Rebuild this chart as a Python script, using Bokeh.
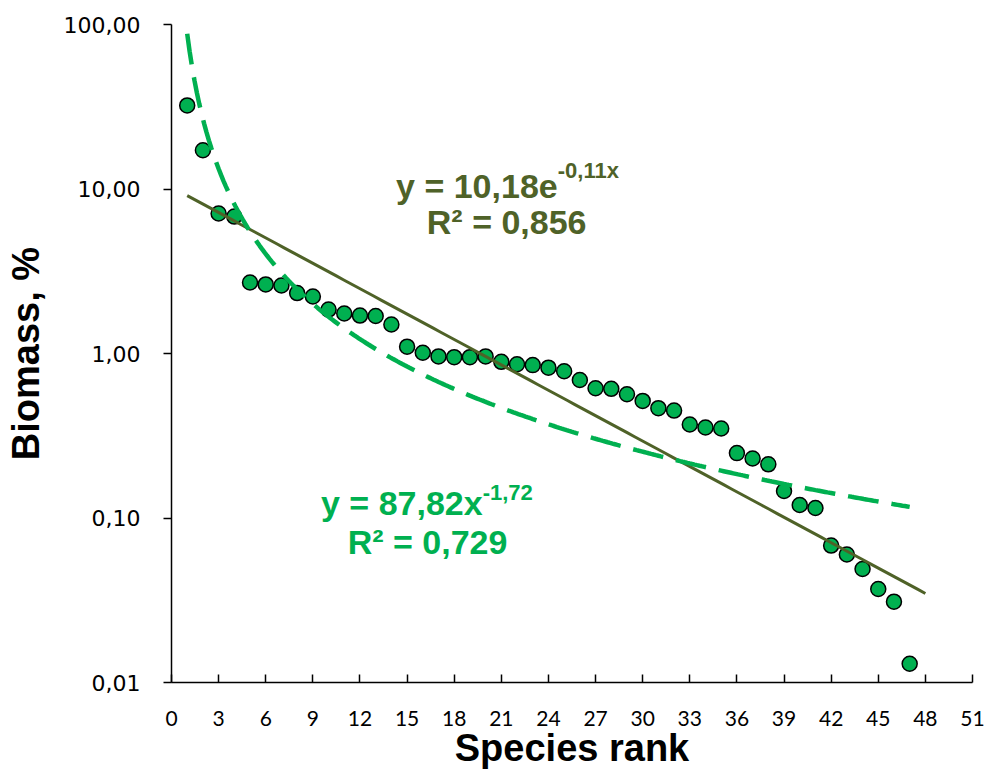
import numpy as np
from bokeh.plotting import figure
from bokeh.models import Range1d, FixedTicker, CustomJSTickFormatter, Label, ColumnDataSource
from bokeh.embed import file_html
from bokeh.resources import INLINE

# ---- data ----
ranks = list(range(1, 48))
biomass = [32.2, 17.2, 7.1, 6.8, 2.70, 2.63, 2.59, 2.33, 2.22, 1.85,
           1.75, 1.70, 1.69, 1.50, 1.10, 1.01, 0.96, 0.95, 0.95, 0.96,
           0.89, 0.86, 0.85, 0.82, 0.78, 0.69, 0.615, 0.61, 0.565, 0.515,
           0.465, 0.45, 0.37, 0.355, 0.35, 0.248, 0.23, 0.212, 0.146, 0.12,
           0.115, 0.068, 0.060, 0.049, 0.037, 0.031, 0.013]
x_ticks = list(range(0, 52, 3))
y_ticks = [0.01, 0.1, 1, 10, 100]

# trendline coefficients (as drawn in the reference)
exp_a, exp_b = 10.27, -0.1185      # y = a * exp(b x)
pow_a, pow_b = 87.82, -1.72        # y = a * x^b

exp_eq_main = "y = 10,18e"
exp_eq_sup = "-0,11x"
exp_r2 = "R² = 0,856"
pow_eq_main = "y = 87,82x"
pow_eq_sup = "-1,72"
pow_r2 = "R² = 0,729"
x_title = "Species rank"
y_title = "Biomass, %"

xr = np.array(ranks, dtype=float)
x_exp = np.linspace(xr[0], xr[-1] + 1, 100)
y_exp = exp_a * np.exp(exp_b * x_exp)
x_pow = np.linspace(xr[0], xr[-1], 300)
y_pow = pow_a * x_pow ** pow_b

GREEN = "#00B050"
OLIVE = "#4F6228"
FONT = "Liberation Sans"

p = figure(width=989, height=776, y_axis_type="log",
           x_range=Range1d(0, 51), y_range=Range1d(0.01, 100),
           output_backend="svg", toolbar_location=None,
           min_border_left=171, min_border_right=17,
           min_border_top=24, min_border_bottom=94)
p.xgrid.visible = False
p.ygrid.visible = False
p.outline_line_color = None
p.background_fill_color = "white"
p.border_fill_color = "white"

p.xaxis.ticker = FixedTicker(ticks=x_ticks, minor_ticks=[])
p.yaxis.ticker = FixedTicker(ticks=y_ticks, minor_ticks=[])
p.yaxis.formatter = CustomJSTickFormatter(code="return tick.toFixed(2).replace('.', ',');")

for ax in (p.xaxis, p.yaxis):
    ax.axis_line_color = "black"
    ax.axis_line_width = 1.5
    ax.major_tick_line_color = "black"
    ax.major_tick_line_width = 1.5
    ax.major_label_text_color = "black"
    ax.axis_label_text_font = FONT
    ax.axis_label_text_font_style = "bold"
    ax.axis_label_text_font_size = "38px"
    ax.axis_label_text_color = "black"

p.xaxis.major_tick_in = 8
p.xaxis.major_tick_out = 0
p.xaxis.major_label_standoff = 28
p.xaxis.major_label_text_font = "Lato"
p.xaxis.major_label_text_font_size = "21px"
p.xaxis.axis_label = x_title
p.xaxis.axis_label_standoff = -2

p.yaxis.major_tick_in = 0
p.yaxis.major_tick_out = 8
p.yaxis.major_label_standoff = 23
p.yaxis.major_label_text_font = "DejaVu Sans"
p.yaxis.major_label_text_font_size = "22px"
p.yaxis.axis_label = y_title
p.yaxis.axis_label_standoff = 14

src = ColumnDataSource(data=dict(rank=ranks, biomass=biomass))
p.scatter("rank", "biomass", source=src, size=15, fill_color=GREEN,
          line_color="black", line_width=1.5)

p.line(x_exp, y_exp, line_color=OLIVE, line_width=3)
p.line(x_pow, y_pow, line_color=GREEN, line_width=4.5, line_dash="31 13")


def lab(x, y, text, color, size, align):
    p.add_layout(Label(x=x, y=y, text=text, text_color=color, text_font=FONT,
                       text_font_size=size, text_font_style="bold",
                       text_align=align, text_baseline="alphabetic"))

# exponential equation
lab(24.59, 10.5, exp_eq_main, OLIVE, "34px", "right")
lab(24.59, 12.9, exp_eq_sup, OLIVE, "22px", "left")
lab(21.34, 6.34, exp_r2, OLIVE, "34px", "center")
# power equation
lab(19.81, 0.124, pow_eq_main, GREEN, "34px", "right")
lab(19.81, 0.143, pow_eq_sup, GREEN, "22px", "left")
lab(16.3, 0.071, pow_r2, GREEN, "34px", "center")

open("out.html", "w").write(file_html(p, INLINE))
